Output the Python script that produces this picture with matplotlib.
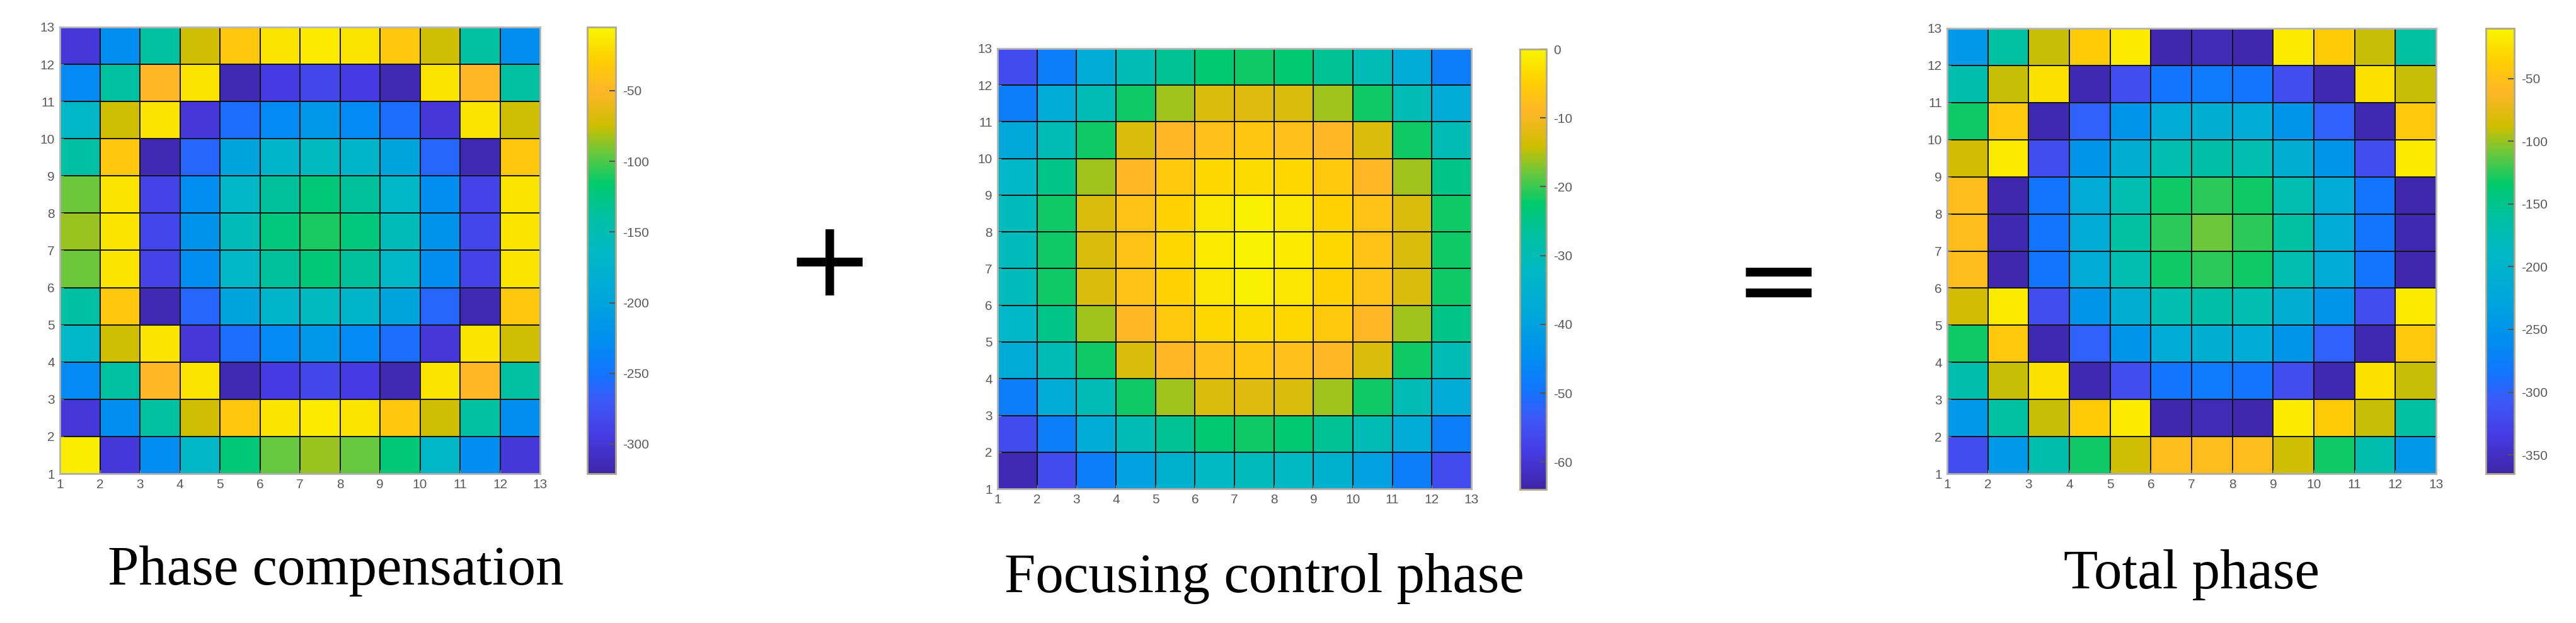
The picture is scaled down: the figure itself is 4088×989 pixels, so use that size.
import numpy as np
import matplotlib
matplotlib.use("Agg")
import matplotlib.pyplot as plt
from matplotlib.colors import LinearSegmentedColormap, Normalize
from matplotlib import font_manager

plt.rcParams['axes.unicode_minus'] = False

# ---------------- data (rows listed top -> bottom, i.e. y=12..13 first) ----------------
grid_ticks = list(range(1, 14))

phase_comp_rows = [
    [-300, -225, -138, -74, -35, -15, -12, -15, -35, -74, -138, -225],
    [-230, -138, -49, -15, -315, -295, -285, -295, -315, -15, -49, -138],
    [-165, -74, -15, -300, -255, -230, -215, -230, -255, -300, -15, -74],
    [-140, -35, -315, -260, -200, -170, -160, -170, -200, -260, -315, -35],
    [-93, -15, -290, -225, -165, -135, -120, -135, -165, -225, -290, -15],
    [-85, -15, -285, -220, -155, -122, -110, -122, -155, -220, -285, -15],
    [-93, -15, -290, -225, -165, -135, -120, -135, -165, -225, -290, -15],
    [-140, -35, -315, -260, -200, -170, -160, -170, -200, -260, -315, -35],
    [-165, -74, -15, -300, -255, -230, -215, -230, -255, -300, -15, -74],
    [-230, -138, -49, -15, -315, -295, -285, -295, -315, -15, -49, -138],
    [-300, -225, -138, -74, -35, -15, -12, -15, -35, -74, -138, -225],
    [-10, -298, -228, -165, -120, -95, -85, -95, -120, -165, -228, -298],
]

focus_rows = [
    [-56, -48, -37, -30, -26, -23, -22, -23, -26, -30, -37, -48],
    [-48, -37, -30, -22, -16, -13, -12.5, -13, -16, -22, -30, -37],
    [-38, -30, -22, -13, -9, -7.5, -6.5, -7.5, -9, -13, -22, -30],
    [-33, -25, -16, -9, -6, -4, -3.5, -4, -6, -9, -16, -25],
    [-31, -22, -13, -7, -4.5, -2, -1, -2, -4.5, -7, -13, -22],
    [-31, -22, -13, -7, -4, -1.5, -0.5, -1.5, -4, -7, -13, -22],
    [-31, -22, -13, -7, -4.5, -2, -1, -2, -4.5, -7, -13, -22],
    [-33, -25, -16, -9, -6, -4, -3.5, -4, -6, -9, -16, -25],
    [-37, -30, -22, -13, -9, -7.5, -6.5, -7.5, -9, -13, -22, -30],
    [-48, -37, -30, -22, -16, -13, -12.5, -13, -16, -22, -30, -37],
    [-56, -48, -37, -30, -26, -23, -22, -23, -26, -30, -37, -48],
    [-63, -56, -48, -40, -35, -32, -31, -32, -35, -40, -48, -56],
]

total_rows = [
    [-245, -160, -90, -40, -17, -362, -358, -362, -17, -40, -90, -160],
    [-170, -90, -25, -360, -318, -285, -280, -285, -318, -360, -25, -90],
    [-131, -42, -360, -300, -250, -215, -210, -215, -250, -300, -360, -42],
    [-85, -17, -318, -250, -210, -172, -165, -172, -210, -250, -318, -17],
    [-54, -362, -285, -215, -172, -131, -125, -131, -172, -215, -285, -362],
    [-54, -360, -285, -215, -160, -125, -109, -125, -160, -215, -285, -360],
    [-54, -362, -285, -215, -172, -131, -125, -131, -172, -215, -285, -362],
    [-85, -17, -318, -250, -210, -172, -165, -172, -210, -250, -318, -17],
    [-131, -42, -360, -300, -250, -215, -210, -215, -250, -300, -360, -42],
    [-170, -90, -25, -360, -318, -285, -280, -285, -318, -360, -25, -90],
    [-245, -160, -90, -40, -17, -362, -358, -362, -17, -40, -90, -160],
    [-318, -245, -170, -131, -87, -54, -54, -54, -87, -131, -170, -245],
]

clim_comp = (-321, -5)
clim_focus = (-64, 0)
clim_total = (-365, -10)
cbar_ticks_comp = [-300, -250, -200, -150, -100, -50]
cbar_ticks_focus = [-60, -50, -40, -30, -20, -10, 0]
cbar_ticks_total = [-350, -300, -250, -200, -150, -100, -50]

titles = ["Phase compensation", "Focusing control phase", "Total phase"]

# ---------------- colormap (saturated parula look) ----------------
_anchors = [
    (0.00, (62, 38, 168)), (0.08, (70, 58, 225)), (0.16, (62, 88, 248)),
    (0.22, (20, 115, 255)), (0.30, (0, 143, 240)), (0.40, (0, 168, 218)),
    (0.50, (0, 185, 196)), (0.58, (0, 193, 160)), (0.65, (0, 202, 108)),
    (0.72, (105, 200, 60)), (0.78, (205, 190, 0)), (0.86, (255, 182, 40)),
    (0.93, (255, 208, 0)), (1.00, (248, 245, 0)),
]
cmap = LinearSegmentedColormap.from_list(
    "parula_like", [(p, tuple(c / 255 for c in rgb)) for p, rgb in _anchors], N=256)

# ---------------- fonts ----------------
avail = {f.name for f in font_manager.fontManager.ttflist}
tick_font = "Liberation Sans Narrow" if "Liberation Sans Narrow" in avail else "Liberation Sans"
title_font = "Liberation Serif"

W, H = 4088, 989
fig = plt.figure(figsize=(W / 100, H / 100), dpi=100)


def rect(x0, y0, x1, y1):
    return [x0 / W, 1 - y1 / H, (x1 - x0) / W, (y1 - y0) / H]


panels = [
    (phase_comp_rows, clim_comp, cbar_ticks_comp, rect(95, 43, 857, 752), rect(932, 43, 977, 752)),
    (focus_rows, clim_focus, cbar_ticks_focus, rect(1583, 77, 2335, 776), rect(2412, 78, 2454, 777)),
    (total_rows, clim_total, cbar_ticks_total, rect(3090, 45, 3866, 752), rect(3945, 45, 3990, 752)),
]

label_color = "#5a5a5a"
edges = np.arange(1, 14)
for rows, clim, cticks, arect, crect in panels:
    Z = np.array(rows, dtype=float)[::-1]
    ax = fig.add_axes(arect)
    mesh = ax.pcolormesh(edges, edges, Z, cmap=cmap, norm=Normalize(*clim),
                         edgecolors="#141414", linewidth=1.3)
    ax.set_xlim(1, 13)
    ax.set_ylim(1, 13)
    ax.set_xticks(grid_ticks)
    ax.set_yticks(grid_ticks)
    ax.tick_params(direction="in", length=4, width=1, color="#888888",
                   labelsize=15, labelcolor=label_color, pad=6)
    for lab in ax.get_xticklabels() + ax.get_yticklabels():
        lab.set_fontfamily(tick_font)
    for sp in ax.spines.values():
        sp.set_color("#b5b5b5")
        sp.set_linewidth(2)

    cax = fig.add_axes(crect)
    cb = fig.colorbar(mesh, cax=cax, ticks=cticks)
    cb.outline.set_edgecolor("#b0a88a")
    cb.outline.set_linewidth(2)
    cb.ax.tick_params(direction="in", length=7, width=1.5, color="#555555",
                      labelsize=15, labelcolor=label_color, pad=8)
    cb.ax.set_yticklabels([str(t) for t in cticks], fontfamily=tick_font)

# captions
title_pos = [(533, 928), (2006, 940), (3478, 934)]
for t, (x, y) in zip(titles, title_pos):
    fig.text(x / W, 1 - y / H, t, ha="center", va="baseline",
             fontsize=64, family=title_font, color="black")

# operators
fig.text(1316 / W, 1 - 405 / H, "+", ha="center", va="center_baseline",
         fontsize=120, family="DejaVu Sans", color="black")
fig.text(2822 / W, 1 - 437 / H, "=", ha="center", va="center_baseline",
         fontsize=120, family="DejaVu Sans", color="black")

fig.savefig("out.png", dpi=100, facecolor="white")
